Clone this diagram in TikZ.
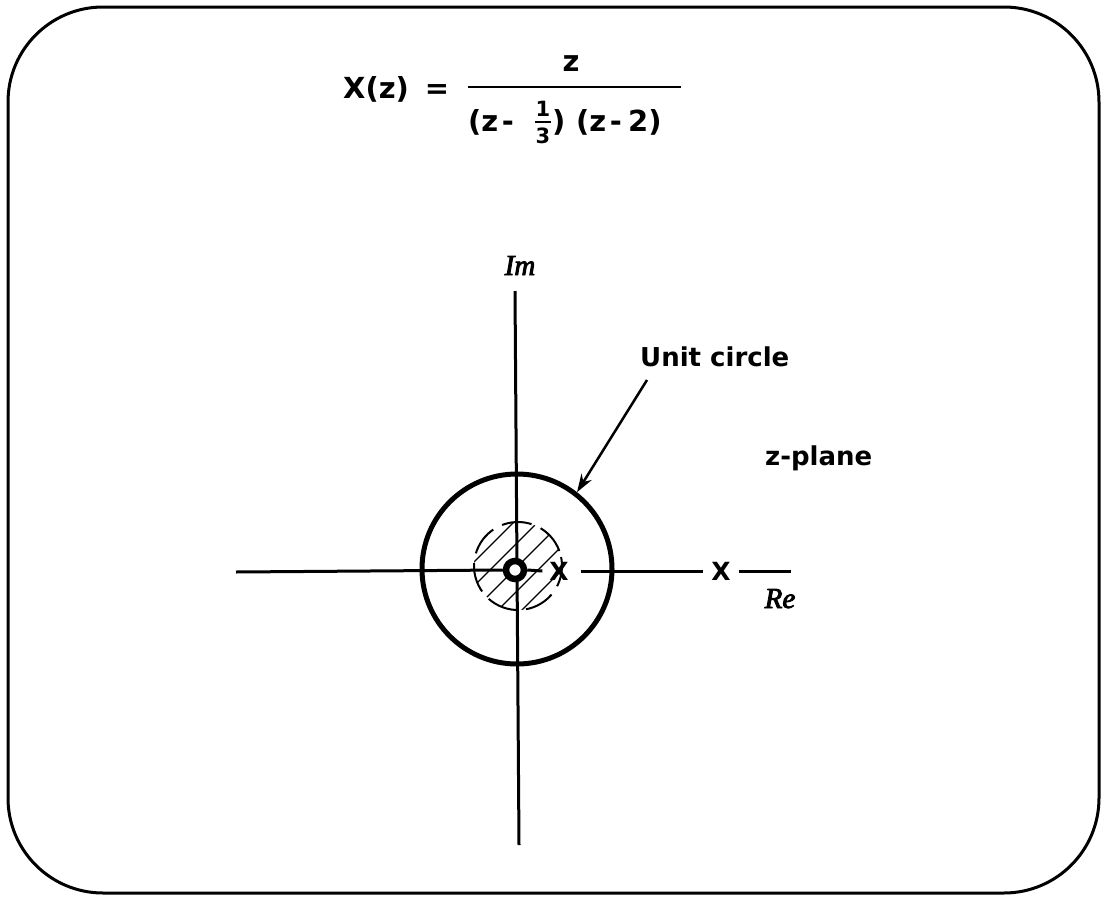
\documentclass[tikz,border=0pt]{standalone}
\usepackage{fontspec}
\setmainfont{DejaVu Sans}
\newfontfamily\sanstxt{DejaVu Sans Bold}
\newfontfamily\serifit[FakeBold=3]{Liberation Serif Italic}
\usetikzlibrary{arrows.meta}
\begin{document}
\begin{tikzpicture}[x=1pt,y=-1pt,
  frame/.style={line width=3pt, rounded corners=95pt},
  axis/.style={line width=3pt},
  ucirc/.style={circle, draw, line width=5pt, minimum size=190pt, inner sep=0pt},
  hatch/.style={line width=1.3pt},
  hatchrim/.style={line width=2pt, dash pattern=on 30pt off 10pt},
  zeroring/.style={circle, draw, fill=white, line width=6.5pt, minimum size=18pt, inner sep=0pt},
  polemark/.style={inner sep=0pt, font=\fontsize{25}{27}\sanstxt},
  txt/.style={inner sep=0pt, font=\fontsize{26}{28}\sanstxt},
  ftxt/.style={inner sep=0pt, font=\fontsize{29}{31}\sanstxt},
  smalltxt/.style={inner sep=0pt, font=\fontsize{21}{23}\sanstxt},
  axlbl/.style={inner sep=0pt, font=\fontsize{29}{32}\serifit},
  pointer/.style={line width=2.5pt, -{Stealth[length=18pt,width=12pt]}}
]
\useasboundingbox (0,0) rectangle (1106,897);
\draw[frame] (8,7) rectangle (1099,893);

% formula
\node[ftxt, anchor=base west] (Xz) at (343,98) {X(z)};
\node[ftxt, anchor=base] (eq) at (437,98) {=};
\coordinate (fl1) at (468,87);
\coordinate (fl2) at (681,87);
\draw[line width=2pt] (fl1) -- (fl2);
\node[ftxt, anchor=base] (num) at (571,71) {z};
\node[ftxt, anchor=base west] (d1) at (468,131) {(z};
\node[ftxt, anchor=base] (d2) at (508,131) {-};
\node[smalltxt, anchor=base] (one) at (543,116) {1};
\node[smalltxt, anchor=base] (three) at (543,143) {3};
\coordinate (sb1) at (535,122);
\coordinate (sb2) at (551,122);
\draw[line width=1.5pt] (sb1) -- (sb2);
\node[ftxt, anchor=base west] (d3) at (552,131) {)};
\node[ftxt, anchor=base west] (d4) at (576,131) {(z};
\node[ftxt, anchor=base] (d5) at (616,131) {-};
\node[ftxt, anchor=base west] (d6) at (628,131) {2)};

% axes
\coordinate (vtop) at (515,291);
\coordinate (vbot) at (519,845);
\draw[axis] (vtop) -- (vbot);
\node[axlbl, anchor=base] (im) at (520,275) {Im};

% unit circle
\node[ucirc] (uc) at (517,569) {};

% hatched region
\begin{scope}
  \clip (518,566) circle[radius=44pt];
  \foreach \i in {-4,...,4} {
    \draw[hatch] ({518+\i*24-70},{566+70}) -- ({518+\i*24+70},{566-70});
  }
\end{scope}
\draw[hatchrim, rotate around={20:(518,566)}] (518,566) circle[radius=44pt];

% zero and poles
\node[zeroring] (zero) at (515,570) {};
\node[polemark, outer sep=7pt] (p1) at (559,571) {X};
\node[polemark, outer sep=8pt] (p2) at (721,571) {X};
\coordinate (hl) at (236,572);
\coordinate (hr) at (791,571);
\draw[axis] (hl) -- (zero.west);
\draw[axis] (zero.east) -- (p1.west);
\draw[axis, shorten <=5pt] (p1.east) -- (p2.west);
\draw[axis] (p2.east) -- (hr);
\node[axlbl, anchor=base] (re) at (780,608) {Re};

% labels
\node[txt, anchor=base west] (ulbl) at (640,366) {Unit circle};
\coordinate (astart) at (647,380);
\draw[pointer] (astart) -- (uc.52);
\node[txt, anchor=base west] (zp) at (765,465) {z-plane};
\end{tikzpicture}
\end{document}
